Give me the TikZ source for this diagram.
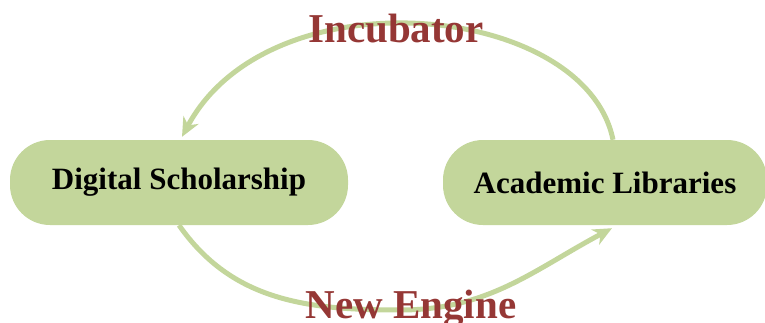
\documentclass[tikz,border=0pt]{standalone}
\usepackage{fontspec}
\setmainfont{Liberation Serif}
\usetikzlibrary{arrows.meta,calc}
\definecolor{olivefill}{HTML}{C3D69B}
\definecolor{labelred}{HTML}{953735}

\begin{document}
\begin{tikzpicture}[x=1pt, y=1pt,
    blob/.style={fill=olivefill, rounded corners=40pt, minimum height=85pt, font=\fontsize{31}{31}\selectfont\bfseries},
    loop/.style={olivefill, line width=5pt, -{Stealth[length=19pt, width=17pt, inset=6pt]}},
    tag/.style={text=labelred, anchor=base, inner sep=0pt, font=\fontsize{41}{41}\selectfont\bfseries}]
          \useasboundingbox (0,0) rectangle (765,322);
          \node[blob, minimum width=338pt] (dsch) at (179,139.5) {Digital Scholarship};
          \node[blob, minimum width=324pt] (acad) at (605,139.5) {Academic Libraries};
          % arcs between the two boxes
          \draw[loop] ([xshift=8pt]acad.north) .. controls (585,320) and (270,350) .. ([shift={(3pt,3pt)}]dsch.north);
          \draw[loop] (dsch.south) to[out=-55, in=180] (400,12) to[out=0, in=208] ([shift={(7pt,-3pt)}]acad.south);
          \node[tag] (incub) at (396,279) {Incubator};
          \node[tag] (engine) at (411,4) {New Engine};
        \end{tikzpicture}
\end{document}
